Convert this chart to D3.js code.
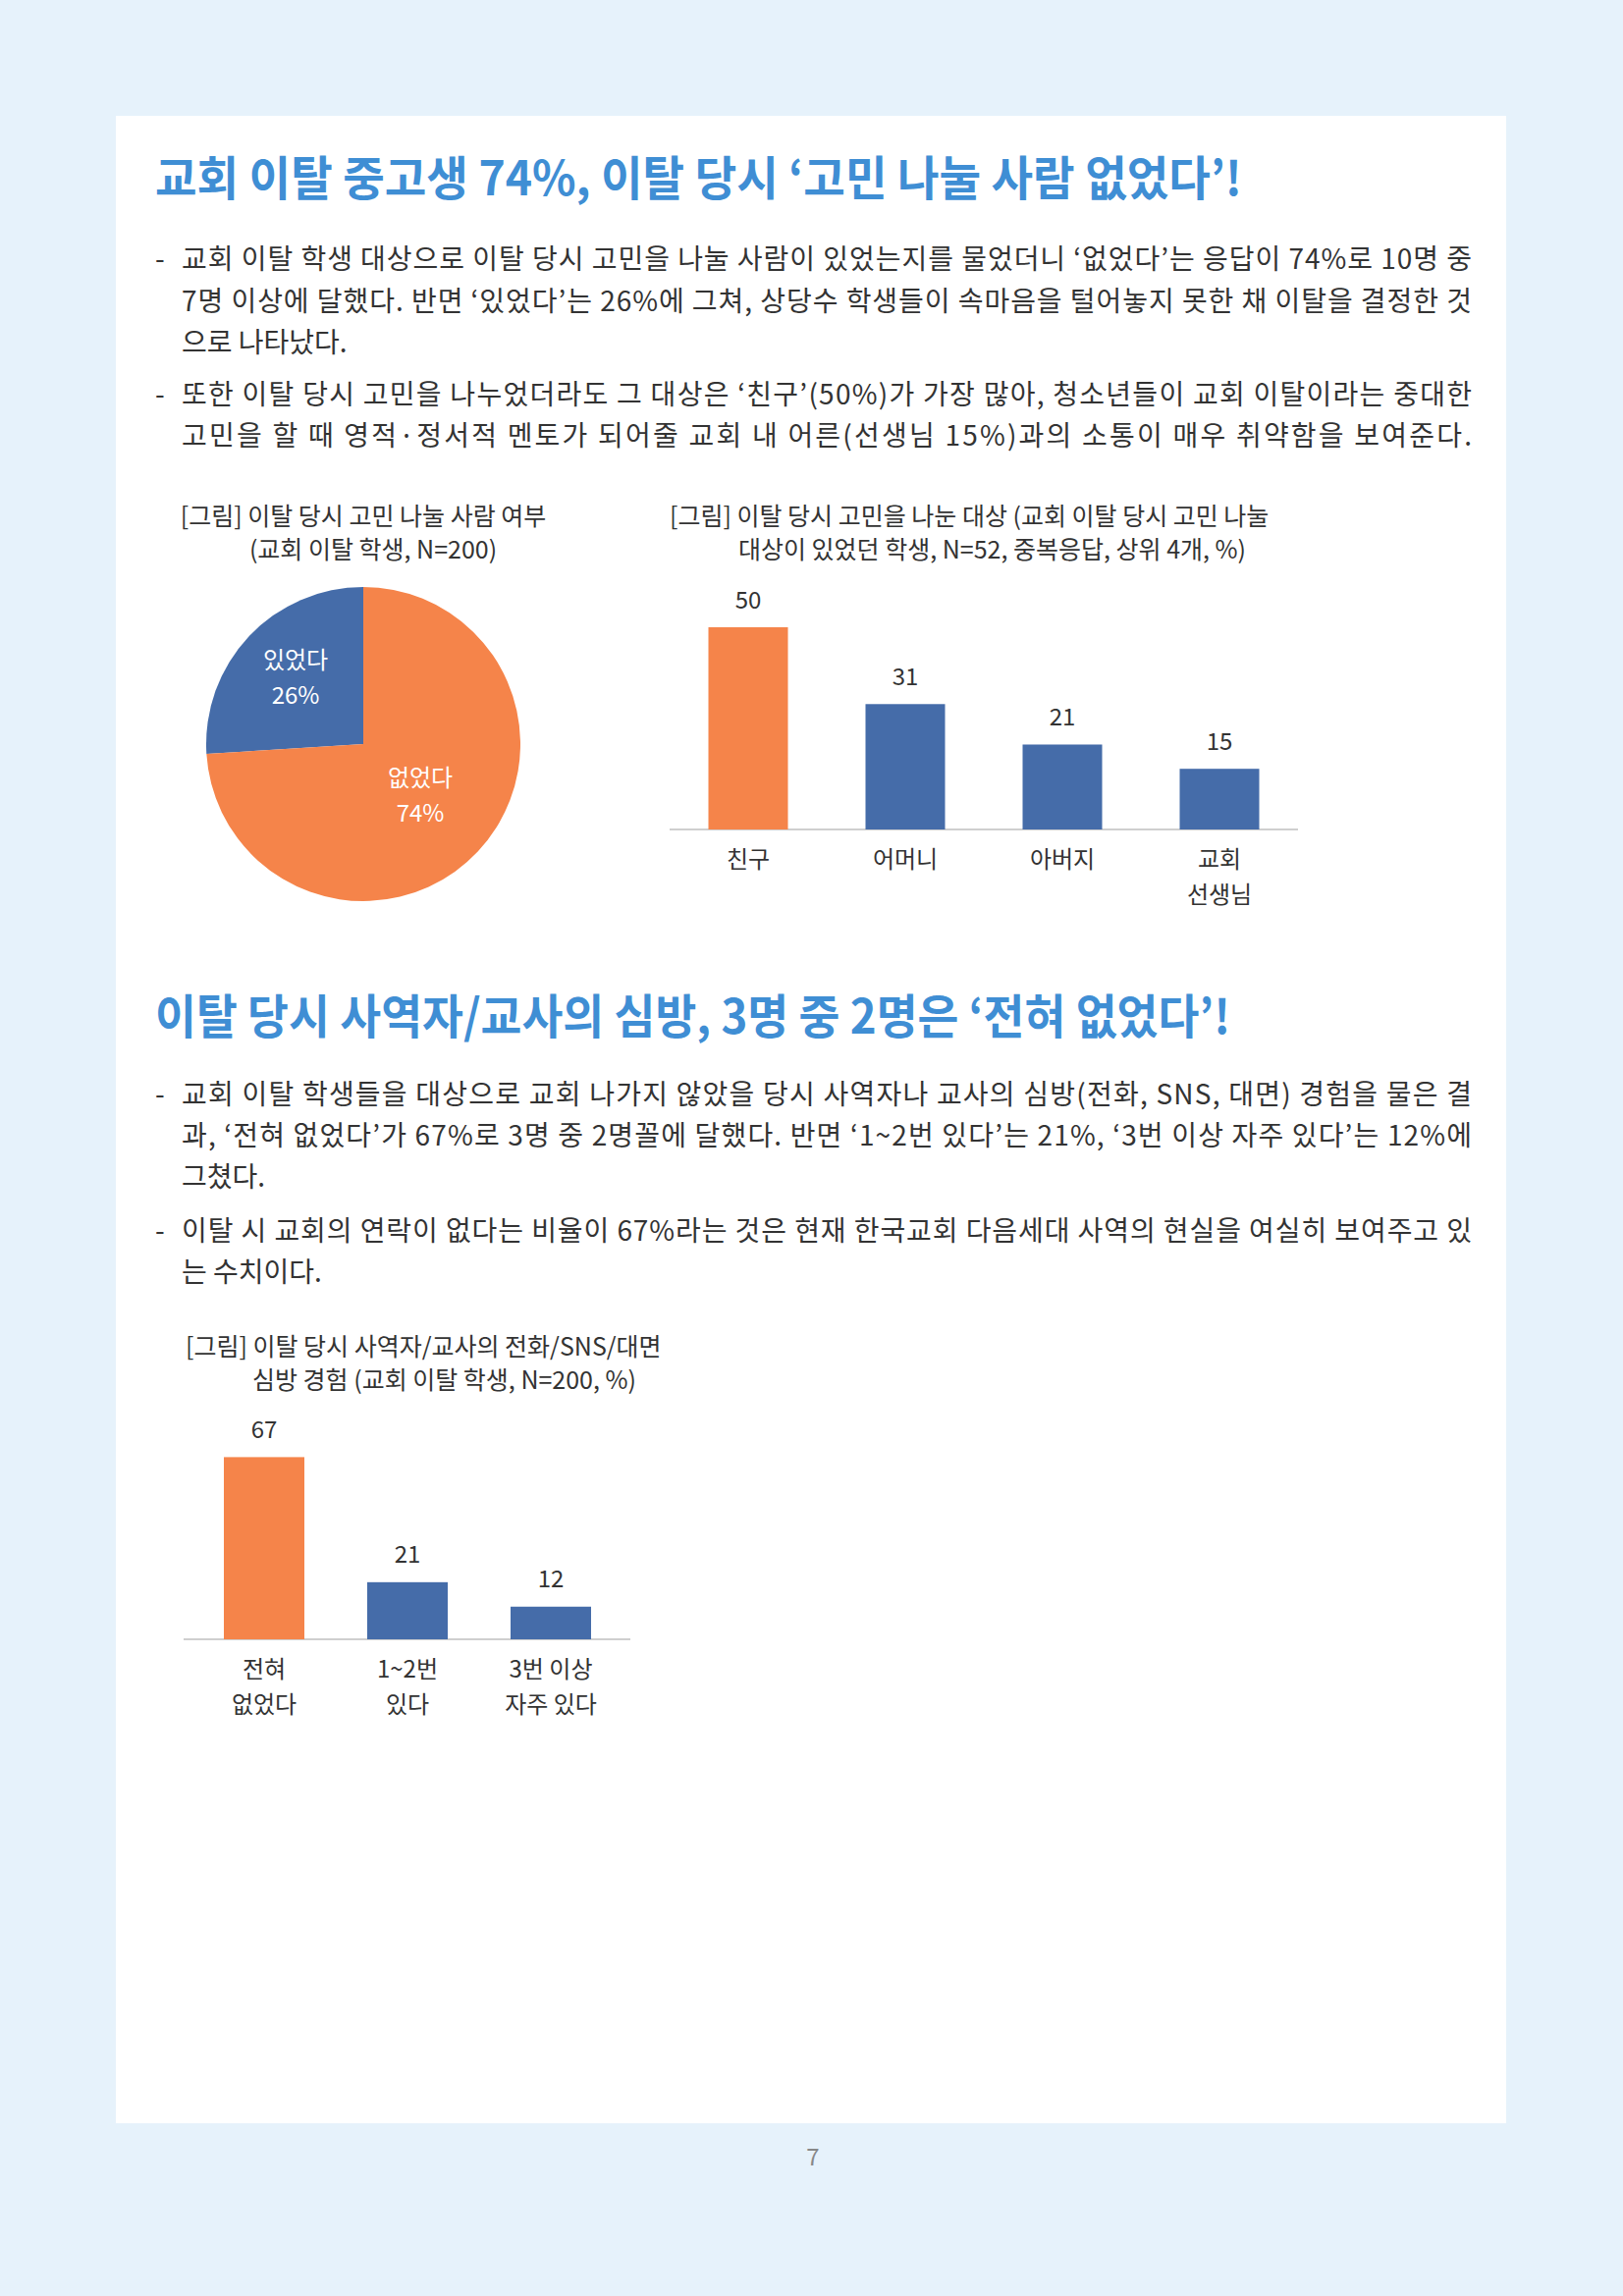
<!DOCTYPE html><html><head><meta charset="utf-8">
<script src="https://cdn.jsdelivr.net/npm/d3@7"></script>
<style>body{margin:0;background:#e6f2fb}svg{display:block}text{font-family:"Noto Sans CJK KR","Noto Sans",sans-serif}</style>
</head><body><svg id="c" width="1653" height="2339"></svg>
<script>
const pieLabels=["있었다","없었다"], pieValues=[26,74];
const bar1Cats=[["친구"],["어머니"],["아버지"],["교회","선생님"]], bar1Values=[50,31,21,15];
const bar2Cats=[["전혀","없었다"],["1~2번","있다"],["3번 이상","자주 있다"]], bar2Values=[67,21,12];
const ORANGE="#f5844a", BLUE="#456ca9", TXT="#333";
const svg=d3.select("#c");
svg.append("rect").attr("x",118).attr("y",118).attr("width",1416).attr("height",2045).attr("fill","#fff");
function t(x,y,s,size,opt={}){return svg.append("text").attr("x",x).attr("y",y).attr("font-size",size).attr("fill",opt.fill||TXT).attr("font-weight",opt.w||400).attr("text-anchor",opt.a||"start").attr("dominant-baseline","middle").text(s);}
t(158,186,"교회 이탈 중고생 74%, 이탈 당시 ‘고민 나눌 사람 없었다’!",48,{fill:"#3f8ed4",w:700}).attr("textLength",1107).attr("lengthAdjust","spacingAndGlyphs");
const b1=[["교회 이탈 학생 대상으로 이탈 당시 고민을 나눌 사람이 있었는지를 물었더니 ‘없었다’는 응답이 74%로 10명 중","7명 이상에 달했다. 반면 ‘있었다’는 26%에 그쳐, 상당수 학생들이 속마음을 털어놓지 못한 채 이탈을 결정한 것","으로 나타났다."],["또한 이탈 당시 고민을 나누었더라도 그 대상은 ‘친구’(50%)가 가장 많아, 청소년들이 교회 이탈이라는 중대한","고민을 할 때 영적·정서적 멘토가 되어줄 교회 내 어른(선생님 15%)과의 소통이 매우 취약함을 보여준다."]];
function bullets(arr,ys){let k=0;arr.forEach(p=>{p.forEach((l,i)=>{if(i==0)t(158,ys[k],"-",28);t(185,ys[k],l,28).attr("textLength",l.length>40?1314:null);k++;});});}
bullets(b1,[266,309,351,404,446]);
t(370,528,"[그림] 이탈 당시 고민 나눌 사람 여부",25,{a:"middle"});
t(380,562,"(교회 이탈 학생, N=200)",25,{a:"middle"});
const pg=svg.append("g").attr("transform","translate(370,758)");
const arcs=d3.pie().sort(null).startAngle(-2*Math.PI*0.26).endAngle(2*Math.PI*0.74)(pieValues);
const arc=d3.arc().innerRadius(0).outerRadius(160);
pg.selectAll("path").data(arcs).join("path").attr("d",arc).attr("fill",(d,i)=>i?ORANGE:BLUE);
[[-69,-84],[58,36]].forEach((o,i)=>{pg.append("text").attr("x",o[0]).attr("y",o[1]).attr("text-anchor","middle").attr("dominant-baseline","middle").attr("font-size",24).attr("fill","#fff").text(pieLabels[i]);pg.append("text").attr("x",o[0]).attr("y",o[1]+36).attr("text-anchor","middle").attr("dominant-baseline","middle").attr("font-size",24).attr("fill","#fff").text(pieValues[i]+"%");});
function barChart(cats,vals,x0,x1,a0,a1,base,perUnit,bw){
 const x=d3.scaleBand().domain(d3.range(cats.length)).range([x0,x1]);
 const y=d3.scaleLinear().domain([0,1]).range([base,base-perUnit]);
 svg.append("line").attr("x1",a0).attr("x2",a1).attr("y1",base).attr("y2",base).attr("stroke","#bfbfbf").attr("stroke-width",1.5);
 vals.forEach((v,i)=>{const cx=x(i)+x.bandwidth()/2;
  svg.append("rect").attr("x",cx-bw/2).attr("width",bw).attr("y",y(v)).attr("height",base-y(v)).attr("fill",i?BLUE:ORANGE);
  t(cx,y(v)-26,v,24,{a:"middle"});
  cats[i].forEach((c,j)=>t(cx,base+32+j*36,c,24,{a:"middle"}));});
}
t(682,528,"[그림] 이탈 당시 고민을 나눈 대상 (교회 이탈 당시 고민 나눌",25);
t(752,562,"대상이 있었던 학생, N=52, 중복응답, 상위 4개, %)",25);
barChart(bar1Cats,bar1Values,682,1322,682,1322,845,4.12,81);
t(158,1040,"이탈 당시 사역자/교사의 심방, 3명 중 2명은 ‘전혀 없었다’!",48,{fill:"#3f8ed4",w:700}).attr("textLength",1095).attr("lengthAdjust","spacingAndGlyphs");
const b2=[["교회 이탈 학생들을 대상으로 교회 나가지 않았을 당시 사역자나 교사의 심방(전화, SNS, 대면) 경험을 물은 결","과, ‘전혀 없었다’가 67%로 3명 중 2명꼴에 달했다. 반면 ‘1~2번 있다’는 21%, ‘3번 이상 자주 있다’는 12%에","그쳤다."],["이탈 시 교회의 연락이 없다는 비율이 67%라는 것은 현재 한국교회 다음세대 사역의 현실을 여실히 보여주고 있","는 수치이다."]];
bullets(b2,[1117,1159,1201,1256,1298]);
t(189,1374,"[그림] 이탈 당시 사역자/교사의 전화/SNS/대면",25);
t(257,1408,"심방 경험 (교회 이탈 학생, N=200, %)",25);
barChart(bar2Cats,bar2Values,196,634,187,642,1670,2.77,82);
t(828,2199,"7",24,{a:"middle",fill:"#888"});
</script></body></html>
